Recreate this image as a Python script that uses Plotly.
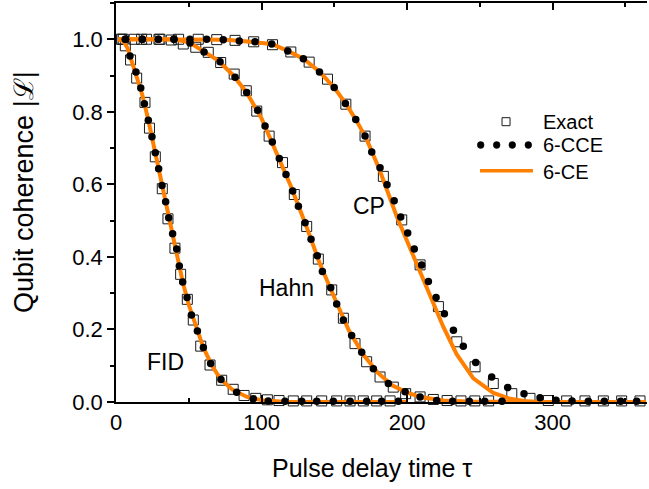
import plotly.graph_objects as go

# ---------------- data ----------------
# Exact (open squares)
fid_exact_x = [3.9, 6.4, 10.0, 14.2, 19.9, 23.0, 27.0, 31.8, 35.7, 40.5, 44.4, 49.0, 53.1, 58.2, 64.6,
               72.6, 80.5, 88.0, 96.0, 104.0, 112.0, 121.8, 131.0, 141.3, 151.6, 160.8, 169.9, 179.1, 188.3]
fid_exact_y = [1.0, 0.982, 0.943, 0.893, 0.826, 0.755, 0.676, 0.588, 0.505, 0.424, 0.352, 0.283, 0.226, 0.154, 0.102,
               0.060, 0.035, 0.018, 0.010, 0.006, 0.004, 0.003, 0.003, 0.003, 0.003, 0.003, 0.003, 0.003, 0.003]

hahn_exact_x = [3.9, 12.5, 21.0, 29.5, 38.0, 46.2, 54.8, 63.4, 71.9, 81.2, 89.5, 96.7, 105.2, 114.4, 122.5,
                131.0, 139.0, 148.2, 156.2, 164.2, 172.2, 181.4, 190.5, 199.0, 208.9, 218.0, 227.5, 237.0, 246.5, 256.0]
hahn_exact_y = [1.0, 1.0, 1.0, 1.0, 0.998, 0.987, 0.978, 0.964, 0.936, 0.904, 0.858, 0.802, 0.733, 0.660, 0.572,
                0.484, 0.394, 0.309, 0.231, 0.161, 0.111, 0.069, 0.041, 0.023, 0.014, 0.007, 0.004, 0.003, 0.003, 0.003]

cp_exact_x = [5.0, 17.6, 30.2, 43.0, 56.5, 69.2, 81.8, 94.6, 107.5, 120.1, 132.7, 145.3, 157.9, 171.1, 183.7,
              196.3, 208.9, 221.5, 234.1, 246.7, 259.2, 271.9, 284.4, 297.0, 309.6, 322.2, 334.8, 347.4, 360.0]
cp_exact_y = [1.0, 1.0, 1.0, 1.0, 1.0, 0.999, 0.997, 0.993, 0.985, 0.965, 0.937, 0.890, 0.821, 0.733, 0.622,
              0.502, 0.378, 0.263, 0.166, 0.097, 0.051, 0.023, 0.010, 0.004, 0.003, 0.003, 0.003, 0.003, 0.003]

# 6-CCE (black dots)
fid_cce_x = [6.5, 9.6, 13.7, 17.0, 19.5, 22.2, 24.7, 27.0, 29.3, 31.6, 34.1, 36.2, 38.9, 41.7, 43.5, 45.8, 48.8,
             51.8, 55.9, 60.0, 65.0, 72.1, 82.9, 94.3, 104.6, 116.1, 127.6, 137.9, 149.3, 160.8, 172.2, 182.5, 194.0]
fid_cce_y = [1.0, 0.954, 0.910, 0.866, 0.822, 0.777, 0.731, 0.687, 0.643, 0.597, 0.552, 0.508, 0.464, 0.422, 0.375,
             0.331, 0.288, 0.240, 0.196, 0.150, 0.106, 0.062, 0.027, 0.009, 0.003, 0.002, 0.002, 0.002, 0.002, 0.002,
             0.002, 0.002, 0.002]

hahn_cce_x = [6.5, 18.1, 29.1, 39.8, 50.8, 60.5, 71.5, 81.8, 89.8, 97.3, 102.4, 107.4, 112.2, 116.8, 121.4, 125.3,
              129.9, 134.0, 138.3, 141.8, 147.5, 151.6, 156.2, 161.9, 168.8, 176.8, 187.1, 198.6, 208.9, 220.3,
              231.3, 242.7, 253.3, 265.2]
hahn_cce_y = [1.0, 1.0, 1.0, 1.0, 0.99, 0.965, 0.938, 0.895, 0.853, 0.804, 0.761, 0.717, 0.671, 0.627, 0.582, 0.540,
              0.494, 0.449, 0.403, 0.360, 0.315, 0.270, 0.226, 0.183, 0.137, 0.092, 0.051, 0.028, 0.014, 0.004,
              0.002, 0.002, 0.002, 0.002]

cp_cce_x = [6.5, 18.1, 29.1, 39.8, 50.8, 62.3, 73.7, 84.7, 95.5, 107.0, 118.0, 128.7, 139.8, 149.9, 157.6, 164.7,
            171.1, 175.7, 181.4, 186.2, 191.1, 195.6, 200.4, 204.9, 210.0, 214.6, 219.9, 225.6, 231.8, 238.6, 247.1,
            258.1, 269.1, 280.3, 291.3, 302.3, 313.3, 324.5, 335.5, 346.7, 357.7]
cp_cce_y = [1.0, 1.0, 1.0, 1.0, 1.0, 1.0, 0.999, 0.995, 0.993, 0.987, 0.968, 0.946, 0.910, 0.867, 0.823, 0.779,
            0.733, 0.689, 0.646, 0.599, 0.555, 0.510, 0.466, 0.422, 0.378, 0.332, 0.288, 0.243, 0.198, 0.154, 0.109,
            0.069, 0.040, 0.023, 0.012, 0.005, 0.003, 0.002, 0.002, 0.002, 0.002]

# 6-CE (orange line)
fid_ce_x = [1.5, 5, 8, 10, 14, 18, 22, 26, 30, 34, 38, 42, 46, 50, 55, 60, 66, 72, 80, 90, 100, 115, 140, 200]
fid_ce_y = [1.0, 0.995, 0.975, 0.95, 0.906, 0.848, 0.781, 0.707, 0.628, 0.553, 0.478, 0.414, 0.328, 0.268, 0.205,
            0.150, 0.100, 0.062, 0.034, 0.014, 0.005, 0.001, 0.0, 0.0]

hahn_ce_x = [1.5, 40, 50, 60, 70, 80, 90, 100, 110, 120, 130, 140, 150, 160, 170, 180, 190, 200, 210, 225, 245, 290]
hahn_ce_y = [1.0, 1.0, 0.992, 0.967, 0.942, 0.903, 0.852, 0.782, 0.692, 0.596, 0.493, 0.382, 0.288, 0.197, 0.130,
             0.080, 0.045, 0.026, 0.013, 0.004, 0.001, 0.0]

cp_ce_x = [1.5, 60, 75, 85, 95, 107, 118, 129, 140, 150, 158, 165, 172, 181, 192.8, 204.3, 215.7, 224.9, 234.1,
           245.5, 259.2, 270, 280, 291, 364]
cp_ce_y = [1.0, 1.0, 0.999, 0.996, 0.993, 0.987, 0.968, 0.946, 0.91, 0.866, 0.822, 0.777, 0.726, 0.641, 0.512,
           0.401, 0.290, 0.207, 0.131, 0.065, 0.025, 0.010, 0.003, 0.0, 0.0]

curve_labels = ["FID", "Hahn", "CP"]
curve_label_x = [34.0, 116.8, 173.9]
curve_label_y = [0.110, 0.3145, 0.539]

legend_names = ["Exact", "6-CCE", "6-CE"]

x_tick_vals = [0, 100, 200, 300]
y_tick_vals = [0.0, 0.2, 0.4, 0.6, 0.8, 1.0]

# ---------------- styling ----------------
FONT = "Liberation Sans, Arial, Helvetica, sans-serif"
ORANGE = "#FF8000"

fig = go.Figure()

for name, xs, ys in [("FID", fid_exact_x, fid_exact_y), ("Hahn", hahn_exact_x, hahn_exact_y),
                     ("CP", cp_exact_x, cp_exact_y)]:
    fig.add_trace(go.Scatter(x=xs, y=ys, mode="markers", name="Exact " + name, showlegend=False,
                             cliponaxis=False,
                             marker=dict(symbol="square-open", size=10, color="#1a1a1a",
                                         line=dict(width=1, color="#1a1a1a"))))

for name, xs, ys in [("FID", fid_ce_x, fid_ce_y), ("Hahn", hahn_ce_x, hahn_ce_y), ("CP", cp_ce_x, cp_ce_y)]:
    fig.add_trace(go.Scatter(x=xs, y=ys, mode="lines", name="6-CE " + name, showlegend=False,
                             cliponaxis=False, line=dict(color=ORANGE, width=4)))

for name, xs, ys in [("FID", fid_cce_x, fid_cce_y), ("Hahn", hahn_cce_x, hahn_cce_y),
                     ("CP", cp_cce_x, cp_cce_y)]:
    fig.add_trace(go.Scatter(x=xs, y=ys, mode="markers", name="6-CCE " + name, showlegend=False,
                             cliponaxis=False, marker=dict(symbol="circle", size=7.5, color="black")))

# curve labels
for t, x, y in zip(curve_labels, curve_label_x, curve_label_y):
    fig.add_annotation(x=x, y=y, xref="x", yref="y", text=t, showarrow=False,
                       font=dict(family=FONT, size=23, color="black"), xanchor="center", yanchor="middle")

# manual legend (paper coordinates)
leg_text_x = 0.8005
leg_rows_y = [0.7025, 0.6441, 0.5772]
fig.add_shape(type="rect", xref="paper", yref="paper", xsizemode="pixel", ysizemode="pixel",
              xanchor=0.7345, yanchor=leg_rows_y[0], x0=-4, x1=4, y0=-4, y1=4,
              line=dict(color="#1a1a1a", width=1), fillcolor="rgba(0,0,0,0)")
for cx in [0.6868, 0.7169, 0.7463, 0.7765]:
    fig.add_shape(type="circle", xref="paper", yref="paper", xsizemode="pixel", ysizemode="pixel",
                  xanchor=cx, yanchor=leg_rows_y[1], x0=-3.4, x1=3.4, y0=-3.4, y1=3.4,
                  line=dict(color="black", width=0.5), fillcolor="black")
fig.add_shape(type="line", xref="paper", yref="paper", x0=0.6855, x1=0.7853, y0=0.5797, y1=0.5797,
              line=dict(color=ORANGE, width=3.5))
for t, y in zip(legend_names, leg_rows_y):
    fig.add_annotation(x=leg_text_x, y=y, xref="paper", yref="paper", text=t, showarrow=False,
                       font=dict(family=FONT, size=20, color="black"), xanchor="left", yanchor="middle")

# axis titles
fig.add_annotation(x=0.4815, y=-0.1654, xref="paper", yref="paper", text="Pulse delay time τ",
                   showarrow=False, font=dict(family=FONT, size=25, color="black"),
                   xanchor="center", yanchor="middle")
fig.add_annotation(x=-0.1733, y=0.5263, xref="paper", yref="paper", text="Qubit coherence |ℒ|",
                   showarrow=False, textangle=-90, font=dict(family=FONT, size=27, color="black"),
                   xanchor="center", yanchor="middle")

fig.update_layout(
    width=649, height=489,
    margin=dict(l=116, r=2, t=3, b=87),
    paper_bgcolor="white", plot_bgcolor="white",
    font=dict(family=FONT, color="black"),
    showlegend=False,
    xaxis=dict(range=[0, 364.8], tickvals=x_tick_vals, ticktext=[str(v) for v in x_tick_vals],
               ticks="inside", ticklen=7, tickwidth=1.5, tickcolor="black",
               minor=dict(ticks="inside", ticklen=4, tickwidth=1.5, dtick=50, tick0=0, tickcolor="black"),
               showline=True, linewidth=1.5, linecolor="black", mirror="ticks",
               showgrid=False, zeroline=False,
               tickfont=dict(family=FONT, size=22, color="black")),
    yaxis=dict(range=[0, 1.1], tickvals=y_tick_vals, ticktext=["%.1f" % v for v in y_tick_vals],
               ticks="outside", ticklen=7, tickwidth=1.5, tickcolor="black",
               minor=dict(ticks="outside", ticklen=4, tickwidth=1.5, dtick=0.1, tick0=0, tickcolor="black"),
               showline=True, linewidth=1.5, linecolor="black",
               showgrid=False, zeroline=False,
               tickfont=dict(family=FONT, size=22, color="black")),
    yaxis2=dict(range=[0, 1.1], overlaying="y", side="right", anchor="x",
                tickvals=y_tick_vals, showticklabels=False,
                ticks="inside", ticklen=5, tickwidth=1.5, tickcolor="black",
                minor=dict(ticks="inside", ticklen=2, tickwidth=1, dtick=0.1, tick0=0, tickcolor="black"),
                showline=True, linewidth=1.5, linecolor="black",
                showgrid=False, zeroline=False),
)

fig.write_html("out.html",
               config={"displayModeBar": False},
               post_script="document.body.style.margin='0';document.body.style.padding='0';"
                           "document.body.style.overflow='hidden';")
